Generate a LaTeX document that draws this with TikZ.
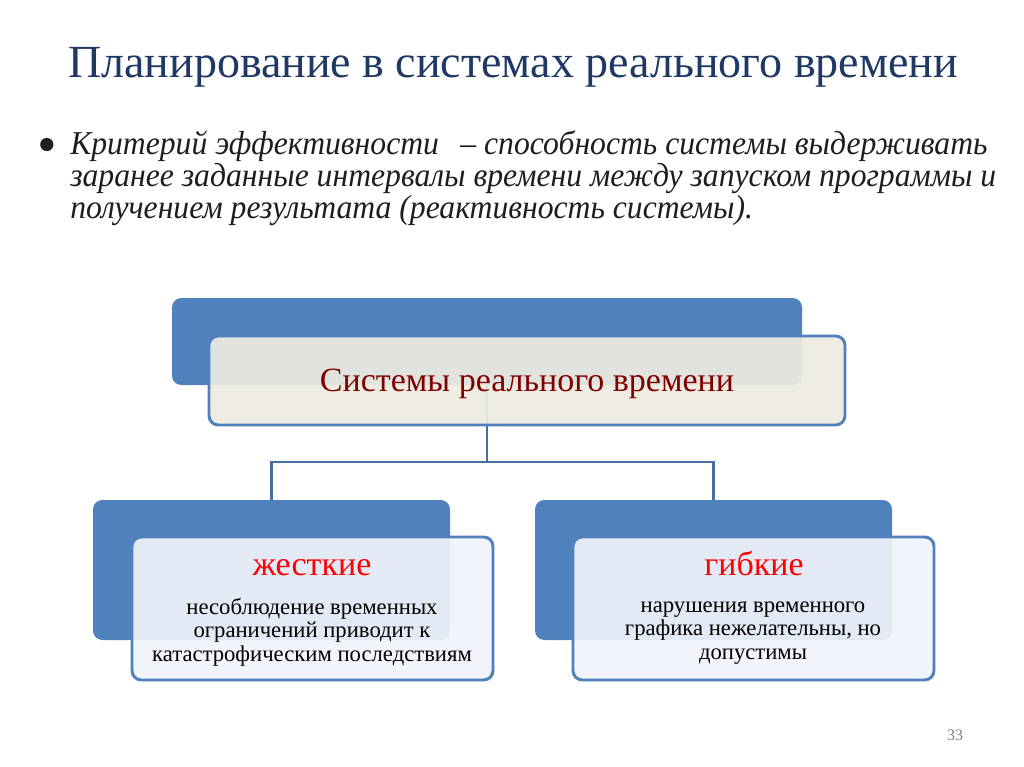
\documentclass[tikz,border=0pt]{standalone}
\usepackage{fontspec}
\setmainfont{Liberation Serif}
\newfontfamily\bulletfont[FakeStretch=0.95]{Liberation Serif}
\newfontfamily\symfont{DejaVu Sans}
\definecolor{titleblue}{RGB}{31,56,100}
\definecolor{boxblue}{RGB}{79,129,189}
\definecolor{lineblue}{RGB}{70,110,160}
\definecolor{beige}{RGB}{238,236,225}
\definecolor{paleblue}{RGB}{240,244,250}
\definecolor{darkred}{RGB}{128,0,0}
\definecolor{textgray}{RGB}{30,30,30}
\begin{document}
\begin{tikzpicture}[x=0.75pt,y=-0.75pt,
  backbox/.style={rectangle,rounded corners=7pt,fill=boxblue,draw=none,inner sep=0pt},
  frontbox/.style={rectangle,rounded corners=7pt,draw=boxblue,line width=2.2pt,inner sep=0pt},
  connector/.style={draw=lineblue,line width=2.2pt},
  desc/.style={align=center,font=\fontsize{17pt}{17.5pt}\selectfont,text=black,inner sep=0pt},
  headtext/.style={inner sep=0pt,font=\fontsize{25.5pt}{28pt}\selectfont}]
\useasboundingbox[fill=white] (0,0) rectangle (1024,767);
% title
\node[anchor=base west,inner sep=0pt,text=titleblue,font=\fontsize{34.5pt}{38pt}\selectfont] (title) at (68,78) {Планирование в системах реального времени};
% bullet
\node[inner sep=0pt,text=textgray,font=\symfont\fontsize{13pt}{13pt}\selectfont] (dot) at (47,145) {●};
\node[anchor=north west,inner sep=0pt,align=left,text=textgray,font=\bulletfont\itshape\fontsize{25pt}{24pt}\selectfont] (crit) at (70,130)
 {Критерий эффективности \ \,– способность системы выдерживать\\
  заранее заданные интервалы времени между запуском программы и\\
  получением результата (реактивность системы).};
% back boxes
\node[backbox,minimum width=472.5pt,minimum height=65.25pt] (topback) at (487,341.5) {};
\node[backbox,minimum width=267.75pt,minimum height=105pt] (leftback) at (271.5,570) {};
\node[backbox,minimum width=267.75pt,minimum height=105pt] (rightback) at (713.5,570) {};
% connectors
\coordinate (split) at (487,462);
\draw[connector] (topback.south) -- (split);
\draw[connector] (split) -| (leftback.north);
\draw[connector] (split) -| (rightback.north);
% front boxes
\node[frontbox,fill=beige,fill opacity=0.92,minimum width=477pt,minimum height=66.75pt] (topfront) at (527,380.5) {};
\node[headtext,text=darkred] (toptext) at (527,384) {Системы реального времени};
\node[frontbox,fill=paleblue,fill opacity=0.92,minimum width=270.75pt,minimum height=107.25pt] (leftfront) at (312.5,608.5) {};
\node[frontbox,fill=paleblue,fill opacity=0.92,minimum width=270.75pt,minimum height=107.25pt] (rightfront) at (753.5,608.5) {};
\node[headtext,text=red] (hard) at (312,568) {жесткие};
\node[desc] (harddesc) at (312,632) {несоблюдение временных\\ограничений приводит к\\катастрофическим последствиям};
\node[headtext,text=red] (soft) at (754,563) {гибкие};
\node[desc] (softdesc) at (753,633) {нарушения временного\\графика нежелательны, но\\допустимы};
% page number
\node[text=gray,inner sep=0pt,font=\fontsize{12pt}{14pt}\selectfont] (num) at (955,735) {33};
\end{tikzpicture}
\end{document}
